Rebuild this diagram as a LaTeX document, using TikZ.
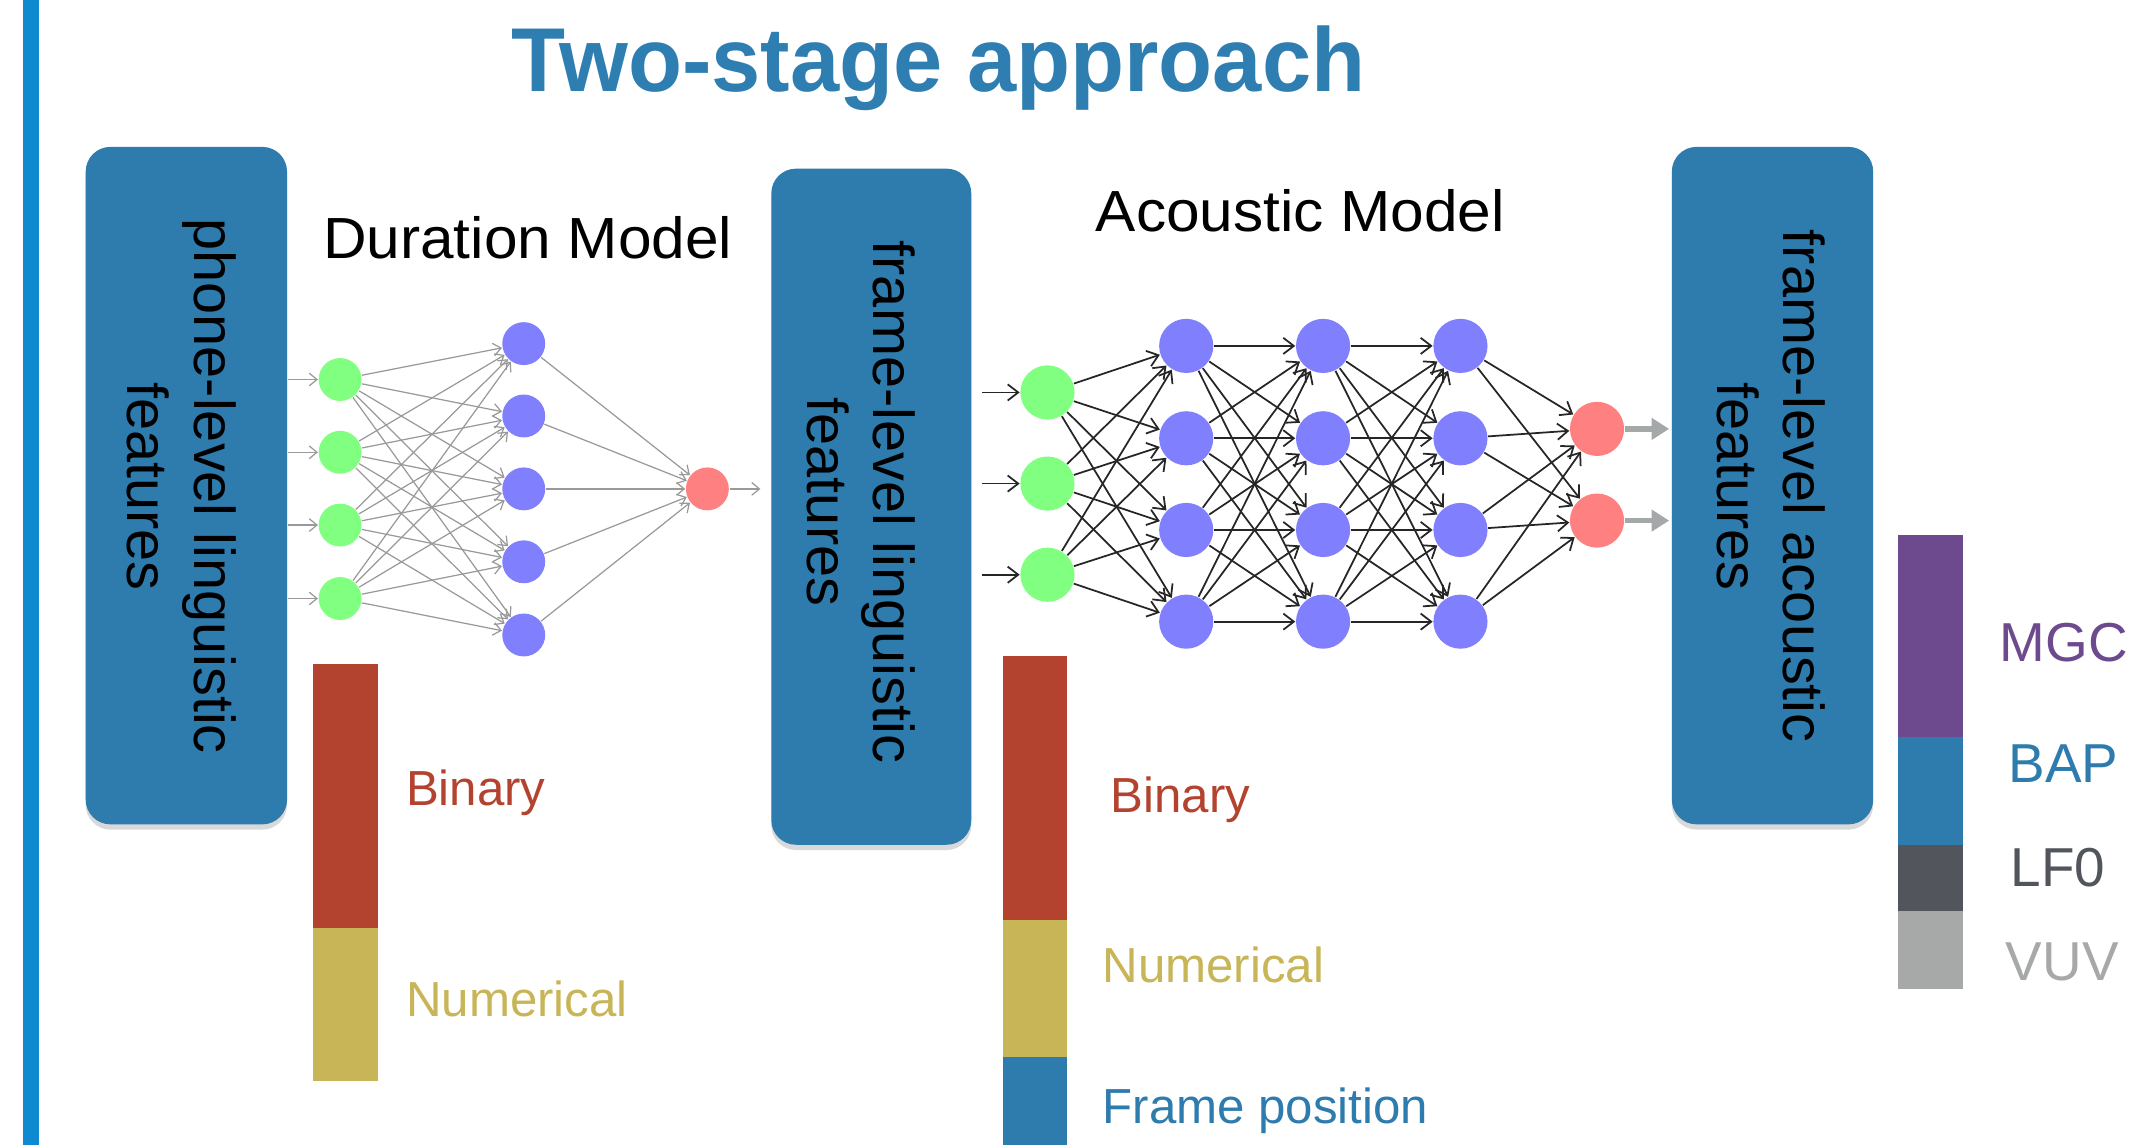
\documentclass[tikz,border=0pt]{standalone}
\usepackage{fontspec}
\setmainfont{Liberation Sans}
\usetikzlibrary{arrows.meta,shadows,fit}
\definecolor{boxblue}{RGB}{46,123,174}
\definecolor{titleblue}{RGB}{47,126,177}
\definecolor{accent}{RGB}{14,138,208}
\definecolor{ngreen}{RGB}{128,255,128}
\definecolor{nblue}{RGB}{128,128,255}
\definecolor{nred}{RGB}{255,128,128}
\definecolor{barred}{RGB}{179,67,47}
\definecolor{baryellow}{RGB}{200,181,87}
\definecolor{barpurple}{RGB}{108,74,141}
\definecolor{bardark}{RGB}{82,86,92}
\definecolor{barlight}{RGB}{167,169,169}
\definecolor{outgray}{RGB}{165,168,168}
\tikzset{
  fbox/.style={fill=boxblue, draw=none, inner sep=0pt, rounded corners=7pt,
    drop shadow={shadow xshift=0pt, shadow yshift=-1.5pt, opacity=0.15, fill=black}},
  rtext/.style={rotate=-90, align=center, inner sep=0pt, font=\fontsize{16.4}{19}\selectfont},
  dnode/.style={circle, draw=none, inner sep=0pt, minimum size=12.2pt},
  anode/.style={circle, draw=none, inner sep=0pt, minimum size=15.4pt},
  dedge/.style={draw=black!40, line width=0.35pt, -{Straight Barb[length=2.2pt,width=3.6pt]}},
  aedge/.style={draw=black!85, line width=0.5pt, -{Straight Barb[length=3pt,width=4.6pt]}},
  oedge/.style={draw=outgray, line width=1.6pt, -{Triangle[length=5pt,width=6pt]}},
  mlbl/.style={anchor=base west, inner sep=0pt, xscale=1.04, font=\fontsize{16.5}{20}\selectfont},
  lbl/.style={anchor=base west, inner sep=0pt, font=\fontsize{14}{16}\selectfont},
  rlbl/.style={anchor=base, inner sep=0pt, font=\fontsize{15.6}{18}\selectfont},
}
\begin{document}
\begin{tikzpicture}[x=0.013603cm, y=-0.013603cm]
\useasboundingbox (0,0) rectangle (1568,841.7);
% accent bar
\fill[accent] (17,0) rectangle (29,841.7);
% title
\node[anchor=base, inner sep=0pt, text=titleblue, xscale=0.975,
  font=\fontsize{25.8}{30}\selectfont\bfseries] (title) at (690,67.4) {Two-stage approach};
% boxes
\node[fbox, fit={(63,108) (211,606)}] (b1) {};
\node[rtext] (b1t) at (133.5,357.5) {phone-level linguistic\\features};
\node[fbox, fit={(567,124) (714,621)}] (b2) {};
\node[rtext] (b2t) at (633,369) {frame-level linguistic\\features};
\node[fbox, fit={(1229,108) (1377,606)}] (b3) {};
\node[rtext] (b3t) at (1302,357.5) {frame-level acoustic\\features};
% model labels
\node[mlbl] (dm) at (237,190) {Duration Model};
\node[mlbl] (am) at (805,170.3) {Acoustic Model};
% duration network
\foreach \i/\y in {1/279,2/332.5,3/386,4/440}{
  \node[dnode, fill=ngreen] (dg\i) at (250,\y) {};
  \coordinate (din\i) at (212,\y);
}
\foreach \i/\y in {1/252.6,2/305.8,3/359.4,4/413,5/466.8}
  \node[dnode, fill=nblue] (db\i) at (385,\y) {};
\node[dnode, fill=nred] (dr) at (520,359.4) {};
\coordinate (dout) at (559,359.4);
\foreach \i in {1,...,4}{
  \draw[dedge] (din\i) -- (dg\i);
  \foreach \j in {1,...,5} \draw[dedge] (dg\i) -- (db\j);
}
\foreach \j in {1,...,5} \draw[dedge] (db\j) -- (dr);
\draw[dedge] (dr) -- (dout);
% acoustic network
\foreach \i/\y in {1/288.5,2/355.5,3/422.5}{
  \node[anode, fill=ngreen] (ag\i) at (770,\y) {};
  \coordinate (ain\i) at (722,\y);
}
\foreach \l/\x in {1/872,2/972.6,3/1073.6}
  \foreach \i/\y in {1/254.3,2/322.2,3/389.6,4/457}
    \node[anode, fill=nblue] (a\l\i) at (\x,\y) {};
\foreach \i/\y in {1/315.3,2/382.7}{
  \node[anode, fill=nred] (ar\i) at (1174,\y) {};
  \coordinate (aout\i) at (1227,\y);
}
\foreach \i in {1,2,3}{
  \draw[aedge] (ain\i) -- (ag\i);
  \foreach \j in {1,...,4} \draw[aedge] (ag\i) -- (a1\j);
}
\foreach \i in {1,...,4}
  \foreach \j in {1,...,4}{
    \draw[aedge] (a1\i) -- (a2\j);
    \draw[aedge] (a2\i) -- (a3\j);
  }
\foreach \i in {1,...,4}
  \foreach \j in {1,2} \draw[aedge] (a3\i) -- (ar\j);
\foreach \j in {1,2} \draw[oedge] (ar\j) -- (aout\j);
% duration bars
\fill[barred] (230,488) rectangle (278,682.5);
\fill[baryellow] (230,682.5) rectangle (278,795);
\node[lbl, text=barred] (dbin) at (298,592) {Binary};
\node[lbl, text=baryellow] (dnum) at (298,747) {Numerical};
% acoustic bars
\fill[barred] (737,482) rectangle (784,676);
\fill[baryellow] (737,676) rectangle (784,776.7);
\fill[boxblue] (737,776.7) rectangle (784,841.7);
\node[lbl, text=barred] (abin) at (816,597) {Binary};
\node[lbl, text=baryellow] (anum) at (810,722.6) {Numerical};
\node[lbl, text=boxblue] (afp) at (810,825.6) {Frame position};
% output bars
\fill[barpurple] (1395,393) rectangle (1443,541.6);
\fill[boxblue] (1395,541.6) rectangle (1443,621);
\fill[bardark] (1395,621) rectangle (1443,669.4);
\fill[barlight] (1395,669.4) rectangle (1443,727);
\node[rlbl, text=barpurple] (mgc) at (1517,486) {MGC};
\node[rlbl, text=boxblue] (bap) at (1517,575) {BAP};
\node[rlbl, text=bardark] (lf0) at (1513,651.7) {LF0};
\node[rlbl, text=barlight] (vuv) at (1516,721) {VUV};
\end{tikzpicture}
\end{document}
